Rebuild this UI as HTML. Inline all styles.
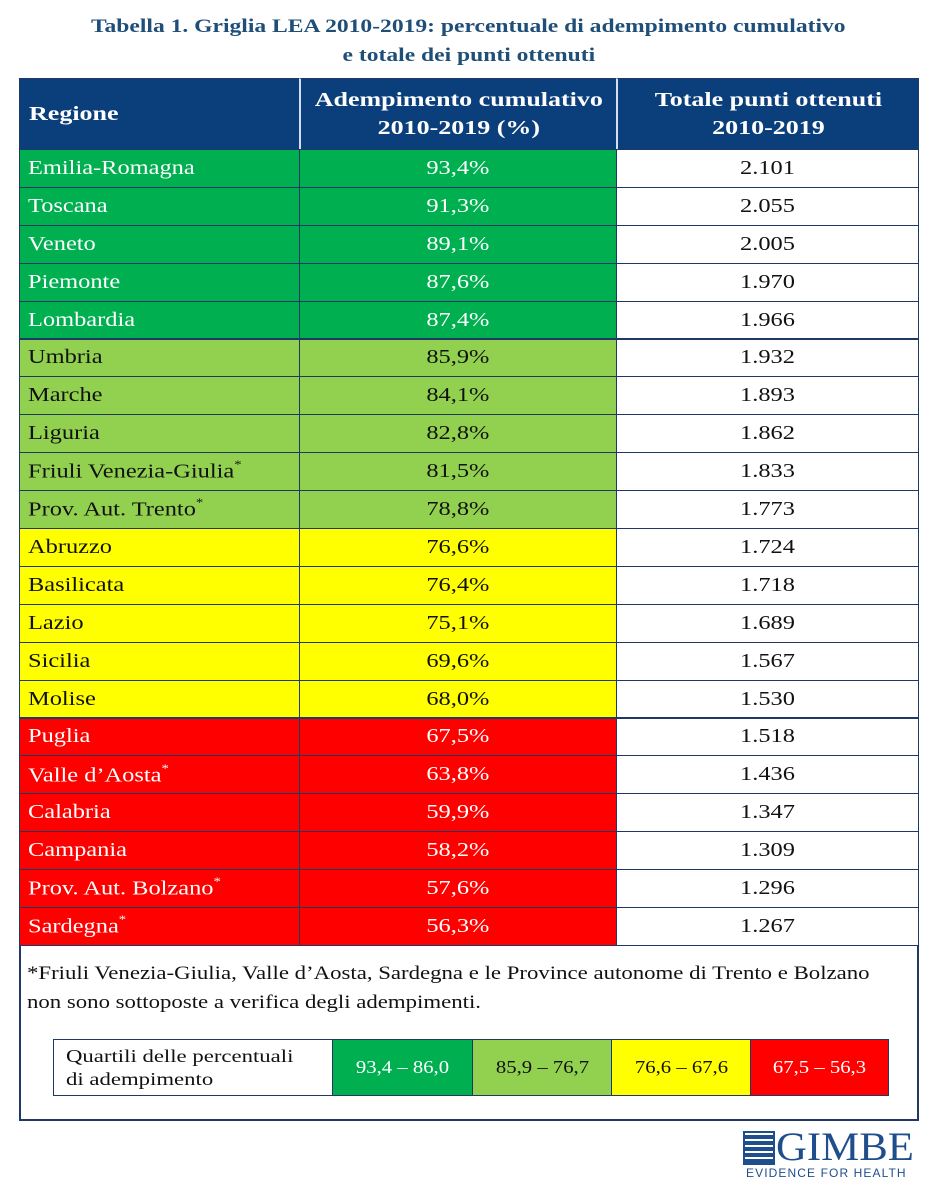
<!DOCTYPE html>
<html><head><meta charset="utf-8"><style>
body{margin:0;width:937px;height:1200px;background:#fff;position:relative;font-family:"Liberation Serif",serif;overflow:hidden}
.t{position:absolute;left:0;width:937px;text-align:center;color:#1f4e79;font-weight:bold;font-size:19px;line-height:25px}
.t span{display:inline-block;transform:scaleX(1.24)}
.c{position:absolute;box-sizing:border-box;border:1px solid #1f3864;font-size:20px;color:#fff;display:flex;align-items:center}
.c span{display:inline-block;transform:scaleX(1.22);white-space:nowrap}
.l span{transform-origin:left}
.h{background:#0b3f7c;font-weight:bold;justify-content:center;text-align:center;line-height:28px}
.h span{transform:scaleX(1.3)}
.l{padding-left:8px}
.m{justify-content:center}
.w{background:#fff;color:#111;justify-content:center}
.q{position:absolute;box-sizing:border-box;border:1px solid #1f3864;font-size:18px;display:flex;align-items:center;justify-content:center;top:1039px;height:57px}
.q span{display:inline-block;transform:scaleX(1.15)}
sup{font-size:12px;position:relative;top:-2px}
</style></head><body>
<div class="t" style="top:14px"><span>Tabella 1. Griglia LEA 2010-2019: percentuale di adempimento cumulativo</span></div>
<div class="t" style="top:43px"><span>e totale dei punti ottenuti</span></div>
<div class="c h l" style="left:19px;top:78px;width:281px;height:72px;justify-content:flex-start;padding-left:9px"><span>Regione</span></div>
<div class="c h" style="left:299px;top:78px;width:318px;height:72px;border-left:2px solid #cfe0f0"><span>Adempimento cumulativo<br>2010-2019 (%)</span></div>
<div class="c h" style="left:616px;top:78px;width:303px;height:72px;border-left:2px solid #cfe0f0"><span>Totale punti ottenuti<br>2010-2019</span></div>
<div id="rows"></div>
<div style="position:absolute;left:19px;top:945px;width:900px;height:176px;box-sizing:border-box;border:2px solid #1f3864;border-top:none"></div>
<div style="position:absolute;left:27px;top:959px;font-size:19px;line-height:29px;color:#111;transform:scaleX(1.2);transform-origin:left;white-space:nowrap">*Friuli Venezia-Giulia, Valle d’Aosta, Sardegna e le Province autonome di Trento e Bolzano<br>non sono sottoposte a verifica degli adempimenti.</div>
<div class="q" style="left:53px;width:280px;justify-content:flex-start;padding-left:12px;line-height:23px;color:#111;font-size:17.5px"><span style="transform:scaleX(1.3);transform-origin:left;white-space:nowrap">Quartili delle percentuali<br>di adempimento</span></div>
<div class="q" style="left:332px;width:141px;background:#00b050;color:#fff"><span>93,4 – 86,0</span></div>
<div class="q" style="left:472px;width:140px;background:#92d050;color:#111"><span>85,9 – 76,7</span></div>
<div class="q" style="left:611px;width:140px;background:#ffff00;color:#111"><span>76,6 – 67,6</span></div>
<div class="q" style="left:750px;width:139px;background:#ff0000;color:#fff"><span>67,5 – 56,3</span></div>
<div style="position:absolute;left:745px;top:1133px;width:28px;height:30px;background:repeating-linear-gradient(0deg,#1f4e8c 0 4px,#fff 4px 6px),#1f4e8c;outline:2px solid #1f4e8c"></div>
<div style="position:absolute;left:776px;top:1124px;font-size:40px;color:#1f4e8c;transform:scaleX(1.07);transform-origin:left;line-height:46px">GIMBE</div>
<div style="position:absolute;left:746px;top:1166px;font-size:12px;color:#1f4e8c;letter-spacing:1.1px;font-family:'Liberation Sans',sans-serif">EVIDENCE FOR HEALTH</div>
<script>
var d=[["Emilia-Romagna","93,4%","2.101",0],["Toscana","91,3%","2.055",0],["Veneto","89,1%","2.005",0],["Piemonte","87,6%","1.970",0],["Lombardia","87,4%","1.966",0],["Umbria","85,9%","1.932",1],["Marche","84,1%","1.893",1],["Liguria","82,8%","1.862",1],["Friuli Venezia-Giulia<sup>*</sup>","81,5%","1.833",1],["Prov. Aut. Trento<sup>*</sup>","78,8%","1.773",1],["Abruzzo","76,6%","1.724",2],["Basilicata","76,4%","1.718",2],["Lazio","75,1%","1.689",2],["Sicilia","69,6%","1.567",2],["Molise","68,0%","1.530",2],["Puglia","67,5%","1.518",3],["Valle d’Aosta<sup>*</sup>","63,8%","1.436",3],["Calabria","59,9%","1.347",3],["Campania","58,2%","1.309",3],["Prov. Aut. Bolzano<sup>*</sup>","57,6%","1.296",3],["Sardegna<sup>*</sup>","56,3%","1.267",3]];
var bg=["#00b050","#92d050","#ffff00","#ff0000"],fg=["#fff","#111","#111","#fff"],h="";
d.forEach(function(r,i){var t=149+i*37.9,s="top:"+t+"px;height:38.9px;background:"+bg[r[3]]+";color:"+fg[r[3]];
h+='<div class="c l" style="left:19px;width:281px;'+s+'"><span>'+r[0]+'</span></div>';
h+='<div class="c m" style="left:299px;width:318px;'+s+'"><span>'+r[1]+'</span></div>';
h+='<div class="c w" style="left:616px;width:303px;top:'+t+'px;height:38.9px"><span>'+r[2]+'</span></div>';});
document.getElementById("rows").innerHTML=h;
</script>
</body></html>
